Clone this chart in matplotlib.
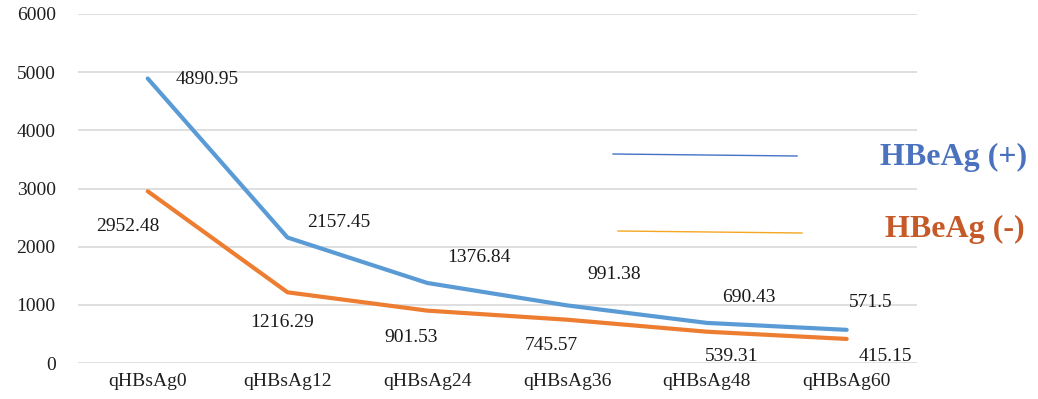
import matplotlib
matplotlib.use("Agg")
import matplotlib.pyplot as plt

categories = ["qHBsAg0", "qHBsAg12", "qHBsAg24", "qHBsAg36", "qHBsAg48", "qHBsAg60"]
hbeag_pos = [4890.95, 2157.45, 1376.84, 991.38, 690.43, 571.5]
hbeag_neg = [2952.48, 1216.29, 901.53, 745.57, 539.31, 415.15]
yticks = [0, 1000, 2000, 3000, 4000, 5000, 6000]

plt.rcParams["font.family"] = ["Liberation Serif", "DejaVu Serif"]

fig = plt.figure(figsize=(10.38, 3.99), dpi=100)
ax = fig.add_axes([0.075, 0.090, 0.808, 0.875])

x = list(range(len(categories)))
blue = "#5b9bd5"
orange = "#ed7d31"
ax.plot(x, hbeag_pos, color=blue, lw=3.0, solid_capstyle="round", solid_joinstyle="round", zorder=3)
ax.plot(x, hbeag_neg, color=orange, lw=3.0, solid_capstyle="round", solid_joinstyle="round", zorder=3)

ax.set_xlim(-0.5, 5.5)
ax.set_ylim(0, 6000)
ax.set_yticks(yticks)
ax.set_xticks(x)
ax.set_xticklabels(categories)
ax.tick_params(axis="both", length=0, labelsize=14, colors="#1f1f1f")
ax.tick_params(axis="y", pad=16)
ax.tick_params(axis="x", pad=7)
ax.grid(axis="y", color="#d9d9d9", lw=1.2)
ax.set_axisbelow(True)
for s in ax.spines.values():
    s.set_visible(False)

# value labels, centred at an offset (points) from each vertex
pos_off = [(43, -1), (37, 11), (37, 18), (34, 22), (30, 18.5), (17, 20)]
neg_off = [(-14, -25.5), (-4, -21.5), (-12, -19), (-11, -18.3), (18, -17.6), (28, -13)]
for xi, v, (dx, dy) in zip(x, hbeag_pos, pos_off):
    ax.annotate(f"{v:g}", (xi, v), xytext=(dx, dy), textcoords="offset points",
                ha="center", va="center", fontsize=14, color="#1a1a1a")
for xi, v, (dx, dy) in zip(x, hbeag_neg, neg_off):
    ax.annotate(f"{v:g}", (xi, v), xytext=(dx, dy), textcoords="offset points",
                ha="center", va="center", fontsize=14, color="#1a1a1a")

# hand-drawn style legend
fig.add_artist(plt.Line2D([613/1038, 797/1038], [1-154/399, 1-156/399], color="#4472c4", lw=1.0))
fig.add_artist(plt.Line2D([618/1038, 802/1038], [1-231/399, 1-233/399], color="#f5a623", lw=1.0))
fig.text(880/1038, 1-157/399, "HBeAg (+)", color="#4a72bf", fontsize=23, fontweight="bold", va="center", ha="left")
fig.text(885/1038, 1-229/399, "HBeAg (-)", color="#c55a28", fontsize=23, fontweight="bold", va="center", ha="left")

fig.savefig("out.png", dpi=100, facecolor="white")
